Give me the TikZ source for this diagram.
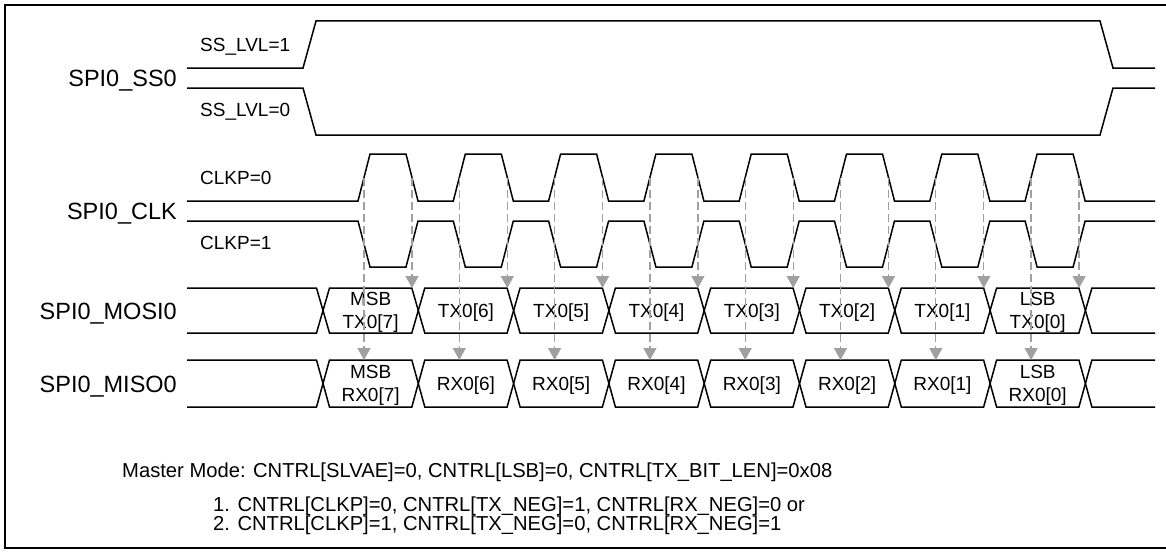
\documentclass[tikz,border=0pt]{standalone}
\usepackage{fontspec}
\setmainfont{Liberation Sans}
\usetikzlibrary{arrows.meta}
\definecolor{guidegray}{HTML}{A0A0A0}
\begin{document}
\begin{tikzpicture}[x=1pt,y=-1pt,
  wave/.style={line width=1.5pt,black,line join=miter},
  frameline/.style={line width=2pt,black},
  guide/.style={guidegray,line width=1.3pt,dash pattern=on 8pt off 4pt},
  probe/.style={guide,-{Triangle[width=13pt,length=12pt]}},
  biglbl/.style={font=\fontsize{23.5}{26}\selectfont,inner sep=0pt,text height=17pt,text depth=0pt,anchor=east},
  smalllbl/.style={font=\fontsize{19}{22}\selectfont,inner sep=0pt,text height=13.6pt,text depth=0pt,anchor=west},
  celllbl/.style={font=\fontsize{19}{22}\selectfont,inner sep=0pt,text height=13.6pt,text depth=0pt},
  notelbl/.style={font=\fontsize{20.2}{23}\selectfont,inner sep=0pt,text height=14.5pt,text depth=0pt,anchor=west}]
\useasboundingbox (0,0) rectangle (1166,551);
% frame
\draw[frameline] (1175,5) -- (5,5) -- (5,548) -- (1175,548);
% signal names
\node[biglbl] (nss)   at (177,78)  {SPI0\_SS0};
\node[biglbl] (nclk)  at (177,211) {SPI0\_CLK};
\node[biglbl] (nmosi) at (177,311) {SPI0\_MOSI0};
\node[biglbl] (nmiso) at (177,384) {SPI0\_MISO0};
% option labels
\node[smalllbl] (lss1) at (200,45)  {SS\_LVL=1};
\node[smalllbl] (lss0) at (200,110) {SS\_LVL=0};
\node[smalllbl] (lck0) at (200,178) {CLKP=0};
\node[smalllbl] (lck1) at (200,243) {CLKP=1};
% SS waveforms
\draw[wave] (187,68) -- (303,68) -- (316,21) -- (1100,21) -- (1113,68) -- (1155,68);
\draw[wave] (187,88) -- (303,88) -- (316,135) -- (1100,135) -- (1113,88) -- (1155,88);
% CLK waveforms
\draw[wave] (187,201) \foreach \k in {0,...,7}{
   -- ({358+95.3*\k},201) -- ({370+95.3*\k},154) -- ({406+95.3*\k},154) -- ({418+95.3*\k},201)}
   -- (1155,201);
\draw[wave] (187,221) \foreach \k in {0,...,7}{
   -- ({358+95.3*\k},221) -- ({370+95.3*\k},267) -- ({406+95.3*\k},267) -- ({418+95.3*\k},221)}
   -- (1155,221);
% buses
\foreach \yt/\yb in {288/333,360/407}{
  \pgfmathsetmacro\ym{(\yt+\yb)/2}
  \draw[wave] (187,\yt) -- (316.5,\yt) -- (323,\ym) -- (316.5,\yb) -- (187,\yb);
  \foreach \k in {0,...,7}{
    \pgfmathsetmacro\ca{323+95.3*\k}
    \pgfmathsetmacro\cb{323+95.3*(\k+1)}
    \draw[wave] (\ca,\ym) -- (\ca+6.5,\yt) -- (\cb-6.5,\yt) -- (\cb,\ym) -- (\cb-6.5,\yb) -- (\ca+6.5,\yb) -- cycle;
  }
  \draw[wave] (1155,\yt) -- ({323+95.3*8+6.5},\yt) -- ({323+95.3*8},\ym) -- ({323+95.3*8+6.5},\yb) -- (1155,\yb);
}
% cell labels
\node[celllbl] (tx0a) at (370.6,299) {MSB};
\node[celllbl] (tx0b) at (370.6,322) {TX0[7]};
\node[celllbl] (rx0a) at (370.6,371.5) {MSB};
\node[celllbl] (rx0b) at (370.6,394.5) {RX0[7]};
\node[celllbl] (tx7a) at ({370.6+95.3*7},299) {LSB};
\node[celllbl] (tx7b) at ({370.6+95.3*7},322) {TX0[0]};
\node[celllbl] (rx7a) at ({370.6+95.3*7},371.5) {LSB};
\node[celllbl] (rx7b) at ({370.6+95.3*7},394.5) {RX0[0]};
\foreach \k/\n in {1/6,2/5,3/4,4/3,5/2,6/1}{
  \node[celllbl] (tx\k) at ({370.6+95.3*\k},310.5) {TX0[\n]};
  \node[celllbl] (rx\k) at ({370.6+95.3*\k},383.5) {RX0[\n]};
}
% sampling guides
\foreach \k in {0,...,7}{
  \coordinate (rise\k) at ({364+95.3*\k},178);
  \coordinate (fall\k) at ({412+95.3*\k},178);
  \coordinate (mositop\k) at ({412+95.3*\k},288);
  \coordinate (misotop\k) at ({364+95.3*\k},360);
  \draw[probe] (fall\k) -- (mositop\k);
  \draw[probe] (rise\k) -- (misotop\k);
}
% notes
\node[notelbl] (note0) at (122,470) {Master Mode: CNTRL[SLVAE]=0, CNTRL[LSB]=0, CNTRL[TX\_BIT\_LEN]=0x08};
\node[notelbl] (note1) at (213,504) {1. CNTRL[CLKP]=0, CNTRL[TX\_NEG]=1, CNTRL[RX\_NEG]=0 or};
\node[notelbl] (note2) at (213,523) {2. CNTRL[CLKP]=1, CNTRL[TX\_NEG]=0, CNTRL[RX\_NEG]=1};
\end{tikzpicture}
\end{document}
